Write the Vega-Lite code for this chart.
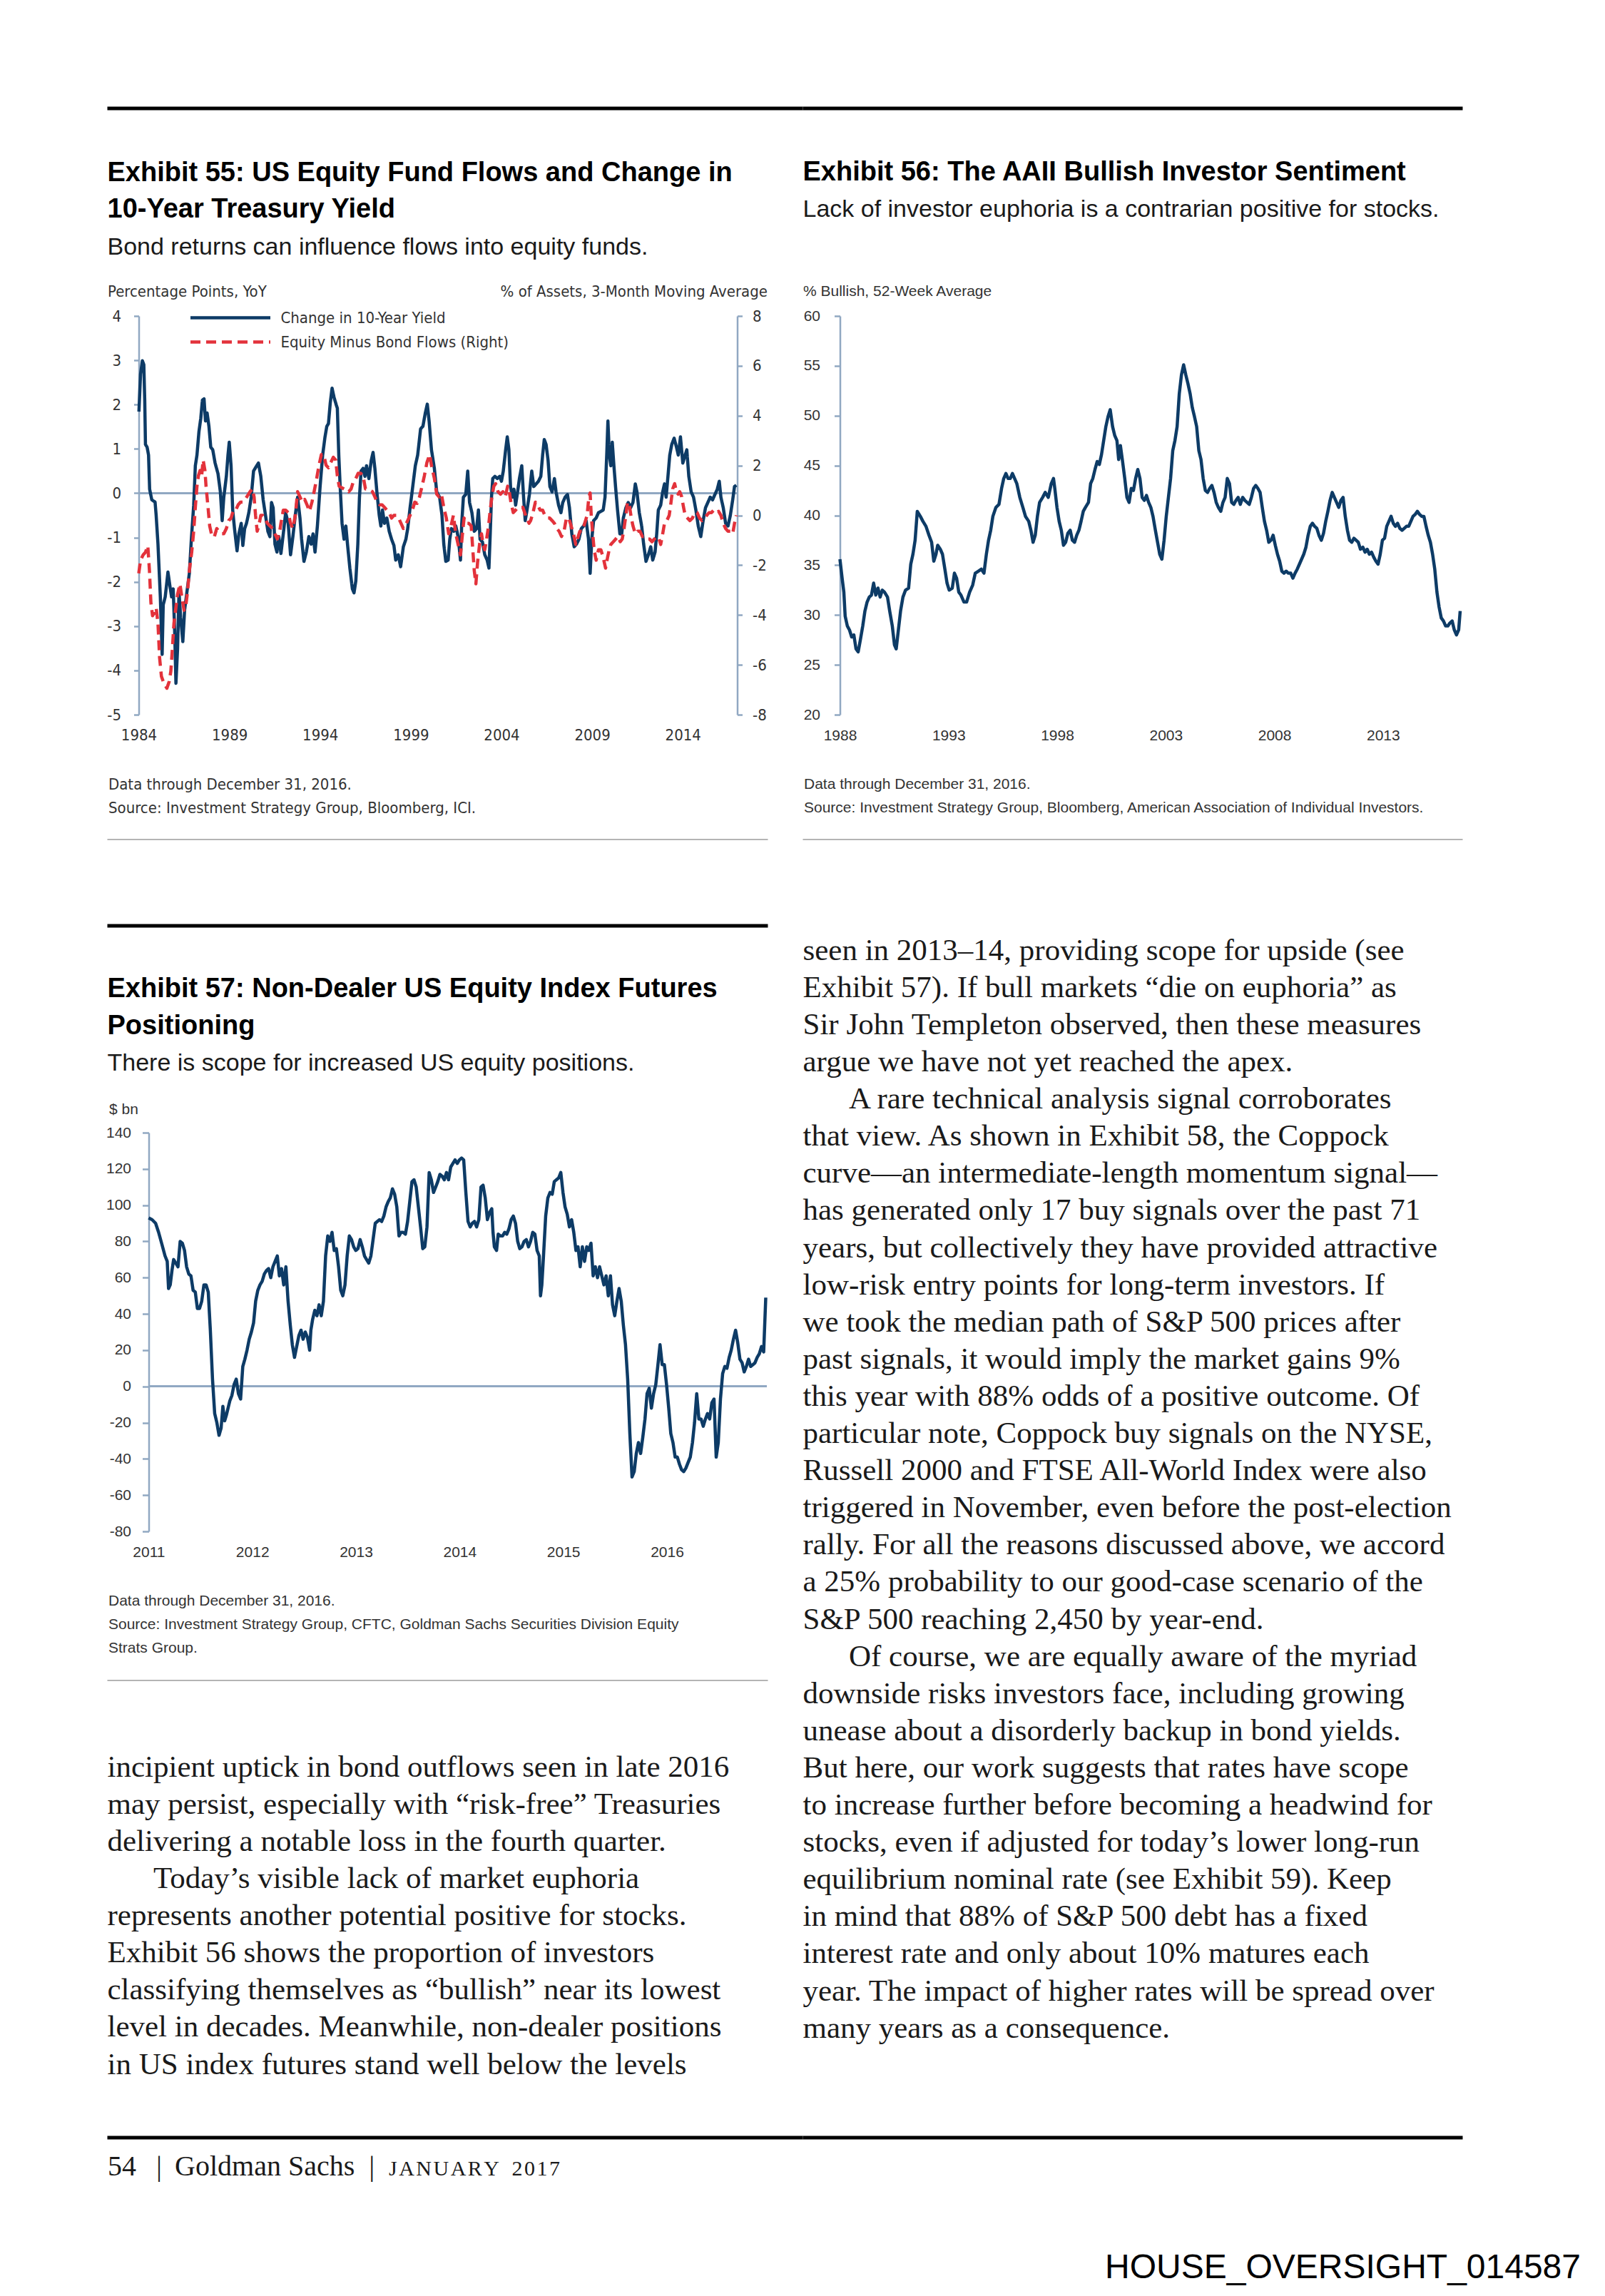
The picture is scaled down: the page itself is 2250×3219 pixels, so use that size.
{
  "$schema": "https://vega.github.io/schema/vega-lite/v6.json",
  "background": "white",
  "padding": {"left": 147.5, "top": 149, "right": 37, "bottom": 20},
  "columns": 2,
  "bounds": "flush",
  "align": "each",
  "spacing": 0,
  "resolve": {"scale": {"color": "independent", "strokeDash": "independent"}, "legend": {"color": "independent", "strokeDash": "independent"}},
  "title": {"text": "HOUSE_OVERSIGHT_014587", "orient": "bottom", "anchor": "end", "frame": "bounds", "dx": 163, "offset": 99, "font": "Liberation Sans", "fontSize": 48, "fontWeight": "normal", "color": "#000000"},
  "config": {
    "view": {"stroke": null},
    "font": "Liberation Sans",
    "locale": {"number": {"decimal": ".", "thousands": ",", "grouping": [3], "currency": ["$", ""], "minus": "-"}},
    "title": {"font": "Liberation Sans", "fontSize": 38, "fontWeight": "bold", "color": "#000000", "anchor": "start", "frame": "group", "lineHeight": 51.6, "subtitleFont": "Liberation Sans", "subtitleFontSize": 34, "subtitleFontWeight": "normal", "subtitleColor": "#1a1a1a", "subtitlePadding": 16},
    "axis": {"labelFont": "Liberation Sans", "labelFontSize": 21, "labelColor": "#333333", "domainColor": "#91A8C2", "domainWidth": 2.5, "tickColor": "#91A8C2", "tickWidth": 2.5, "tickSize": 8, "grid": false, "labelPadding": 18, "labelFlush": false, "labelOverlap": false, "labelBound": false, "titleFont": "Liberation Sans", "titleFontSize": 21, "titleFontWeight": "normal", "titleColor": "#333333", "titleLimit": 2000, "titleAngle": 0, "titleBaseline": "alphabetic"},
    "axisX": {"domain": false, "ticks": false, "tickSize": 0, "labelPadding": 18, "titleAlign": "left", "titleLineHeight": 33.4},
    "legend": {"labelFont": "Liberation Sans Narrow, DejaVu Sans Condensed, Liberation Sans", "labelFontSize": 22, "labelColor": "#333333", "labelLimit": 600}
  },
  "datasets": {
    "ex55": [
      {"t":1984.01,"s":"y","v":1.84},{"t":1984.10,"s":"y","v":2.69},{"t":1984.20,"s":"y","v":2.99},{"t":1984.28,"s":"y","v":2.90},{"t":1984.33,"s":"y","v":2.10},{"t":1984.37,"s":"y","v":1.10},{"t":1984.46,"s":"y","v":1.04},{"t":1984.54,"s":"y","v":0.86},{"t":1984.60,"s":"y","v":0.09},{"t":1984.72,"s":"y","v":-0.15},{"t":1984.90,"s":"y","v":-0.20},{"t":1984.96,"s":"y","v":-0.50},{"t":1985.06,"s":"y","v":-1.15},{"t":1985.19,"s":"y","v":-2.34},{"t":1985.29,"s":"y","v":-3.64},{"t":1985.35,"s":"y","v":-2.52},{"t":1985.46,"s":"y","v":-2.34},{"t":1985.61,"s":"y","v":-1.78},{"t":1985.72,"s":"y","v":-2.10},{"t":1985.81,"s":"y","v":-2.34},{"t":1985.90,"s":"y","v":-2.16},{"t":1985.98,"s":"y","v":-3.11},{"t":1986.05,"s":"y","v":-4.29},{"t":1986.14,"s":"y","v":-3.52},{"t":1986.22,"s":"y","v":-2.22},{"t":1986.31,"s":"y","v":-2.81},{"t":1986.43,"s":"y","v":-3.35},{"t":1986.53,"s":"y","v":-2.63},{"t":1986.66,"s":"y","v":-2.22},{"t":1986.79,"s":"y","v":-1.81},{"t":1986.90,"s":"y","v":-1.04},{"t":1987.03,"s":"y","v":-0.27},{"t":1987.12,"s":"y","v":0.62},{"t":1987.21,"s":"y","v":0.86},{"t":1987.32,"s":"y","v":1.39},{"t":1987.42,"s":"y","v":1.69},{"t":1987.51,"s":"y","v":2.10},{"t":1987.60,"s":"y","v":2.13},{"t":1987.68,"s":"y","v":1.63},{"t":1987.77,"s":"y","v":1.81},{"t":1987.87,"s":"y","v":1.51},{"t":1987.97,"s":"y","v":1.04},{"t":1988.08,"s":"y","v":0.98},{"t":1988.21,"s":"y","v":0.68},{"t":1988.37,"s":"y","v":0.44},{"t":1988.50,"s":"y","v":0.03},{"t":1988.60,"s":"y","v":-0.62},{"t":1988.69,"s":"y","v":-0.09},{"t":1988.83,"s":"y","v":0.38},{"t":1988.92,"s":"y","v":0.86},{"t":1988.99,"s":"y","v":1.15},{"t":1989.09,"s":"y","v":0.62},{"t":1989.18,"s":"y","v":-0.38},{"t":1989.28,"s":"y","v":-0.80},{"t":1989.42,"s":"y","v":-1.30},{"t":1989.52,"s":"y","v":-0.92},{"t":1989.65,"s":"y","v":-0.68},{"t":1989.74,"s":"y","v":-1.18},{"t":1989.84,"s":"y","v":-0.80},{"t":1989.94,"s":"y","v":-0.68},{"t":1990.07,"s":"y","v":-0.44},{"t":1990.20,"s":"y","v":-0.09},{"t":1990.33,"s":"y","v":0.50},{"t":1990.46,"s":"y","v":0.59},{"t":1990.60,"s":"y","v":0.68},{"t":1990.73,"s":"y","v":0.38},{"t":1990.86,"s":"y","v":-0.15},{"t":1990.99,"s":"y","v":-0.50},{"t":1991.12,"s":"y","v":-0.86},{"t":1991.23,"s":"y","v":-0.98},{"t":1991.32,"s":"y","v":-0.21},{"t":1991.41,"s":"y","v":-0.33},{"t":1991.51,"s":"y","v":-1.15},{"t":1991.62,"s":"y","v":-1.33},{"t":1991.72,"s":"y","v":-0.98},{"t":1991.84,"s":"y","v":-1.36},{"t":1991.97,"s":"y","v":-0.92},{"t":1992.10,"s":"y","v":-0.44},{"t":1992.24,"s":"y","v":-0.68},{"t":1992.37,"s":"y","v":-1.39},{"t":1992.50,"s":"y","v":-0.98},{"t":1992.63,"s":"y","v":-0.50},{"t":1992.76,"s":"y","v":-0.09},{"t":1992.89,"s":"y","v":-0.56},{"t":1992.98,"s":"y","v":-1.04},{"t":1993.11,"s":"y","v":-1.54},{"t":1993.24,"s":"y","v":-1.33},{"t":1993.38,"s":"y","v":-0.98},{"t":1993.51,"s":"y","v":-1.15},{"t":1993.61,"s":"y","v":-0.92},{"t":1993.72,"s":"y","v":-1.33},{"t":1993.85,"s":"y","v":-0.74},{"t":1994.00,"s":"y","v":0.15},{"t":1994.14,"s":"y","v":0.86},{"t":1994.27,"s":"y","v":1.27},{"t":1994.37,"s":"y","v":1.51},{"t":1994.46,"s":"y","v":1.57},{"t":1994.56,"s":"y","v":2.04},{"t":1994.66,"s":"y","v":2.37},{"t":1994.77,"s":"y","v":2.16},{"t":1994.90,"s":"y","v":1.98},{"t":1994.95,"s":"y","v":1.92},{"t":1995.03,"s":"y","v":0.86},{"t":1995.12,"s":"y","v":0.03},{"t":1995.21,"s":"y","v":-0.68},{"t":1995.32,"s":"y","v":-1.04},{"t":1995.42,"s":"y","v":-0.74},{"t":1995.51,"s":"y","v":-1.15},{"t":1995.64,"s":"y","v":-1.69},{"t":1995.78,"s":"y","v":-2.16},{"t":1995.87,"s":"y","v":-2.25},{"t":1995.97,"s":"y","v":-1.98},{"t":1996.08,"s":"y","v":-1.15},{"t":1996.17,"s":"y","v":-0.09},{"t":1996.26,"s":"y","v":0.50},{"t":1996.37,"s":"y","v":0.56},{"t":1996.47,"s":"y","v":0.38},{"t":1996.56,"s":"y","v":0.62},{"t":1996.69,"s":"y","v":0.33},{"t":1996.82,"s":"y","v":0.74},{"t":1996.92,"s":"y","v":0.92},{"t":1997.02,"s":"y","v":0.56},{"t":1997.13,"s":"y","v":0.03},{"t":1997.26,"s":"y","v":-0.50},{"t":1997.35,"s":"y","v":-0.74},{"t":1997.44,"s":"y","v":-0.38},{"t":1997.55,"s":"y","v":-0.68},{"t":1997.68,"s":"y","v":-0.56},{"t":1997.81,"s":"y","v":-0.86},{"t":1997.94,"s":"y","v":-1.04},{"t":1998.07,"s":"y","v":-1.18},{"t":1998.17,"s":"y","v":-1.51},{"t":1998.31,"s":"y","v":-1.39},{"t":1998.44,"s":"y","v":-1.66},{"t":1998.59,"s":"y","v":-1.21},{"t":1998.73,"s":"y","v":-1.04},{"t":1998.83,"s":"y","v":-0.80},{"t":1998.96,"s":"y","v":-0.33},{"t":1999.09,"s":"y","v":0.09},{"t":1999.25,"s":"y","v":0.62},{"t":1999.38,"s":"y","v":0.86},{"t":1999.54,"s":"y","v":1.45},{"t":1999.67,"s":"y","v":1.51},{"t":1999.80,"s":"y","v":1.81},{"t":1999.91,"s":"y","v":2.01},{"t":2000.01,"s":"y","v":1.63},{"t":2000.14,"s":"y","v":0.98},{"t":2000.30,"s":"y","v":0.56},{"t":2000.43,"s":"y","v":0.03},{"t":2000.59,"s":"y","v":-0.09},{"t":2000.72,"s":"y","v":-0.50},{"t":2000.82,"s":"y","v":-1.15},{"t":2000.93,"s":"y","v":-1.54},{"t":2001.06,"s":"y","v":-1.51},{"t":2001.15,"s":"y","v":-1.04},{"t":2001.24,"s":"y","v":-0.80},{"t":2001.37,"s":"y","v":-0.86},{"t":2001.48,"s":"y","v":-0.74},{"t":2001.61,"s":"y","v":-0.98},{"t":2001.74,"s":"y","v":-1.51},{"t":2001.81,"s":"y","v":-0.68},{"t":2001.90,"s":"y","v":-0.09},{"t":2002.03,"s":"y","v":-0.03},{"t":2002.14,"s":"y","v":0.50},{"t":2002.24,"s":"y","v":-0.21},{"t":2002.37,"s":"y","v":-0.44},{"t":2002.50,"s":"y","v":-0.86},{"t":2002.63,"s":"y","v":-0.80},{"t":2002.73,"s":"y","v":-0.38},{"t":2002.82,"s":"y","v":-1.04},{"t":2002.95,"s":"y","v":-1.10},{"t":2003.08,"s":"y","v":-1.39},{"t":2003.21,"s":"y","v":-1.51},{"t":2003.31,"s":"y","v":-1.69},{"t":2003.38,"s":"y","v":-0.92},{"t":2003.45,"s":"y","v":-0.09},{"t":2003.52,"s":"y","v":0.33},{"t":2003.64,"s":"y","v":0.38},{"t":2003.77,"s":"y","v":0.33},{"t":2003.90,"s":"y","v":0.38},{"t":2004.00,"s":"y","v":0.27},{"t":2004.10,"s":"y","v":0.50},{"t":2004.23,"s":"y","v":0.98},{"t":2004.32,"s":"y","v":1.27},{"t":2004.41,"s":"y","v":0.98},{"t":2004.50,"s":"y","v":0.15},{"t":2004.60,"s":"y","v":-0.09},{"t":2004.69,"s":"y","v":0.09},{"t":2004.78,"s":"y","v":-0.27},{"t":2004.89,"s":"y","v":0.03},{"t":2004.99,"s":"y","v":0.33},{"t":2005.12,"s":"y","v":0.62},{"t":2005.22,"s":"y","v":-0.09},{"t":2005.31,"s":"y","v":-0.62},{"t":2005.41,"s":"y","v":-0.38},{"t":2005.54,"s":"y","v":-0.03},{"t":2005.67,"s":"y","v":0.50},{"t":2005.78,"s":"y","v":0.15},{"t":2005.91,"s":"y","v":0.21},{"t":2006.04,"s":"y","v":0.27},{"t":2006.17,"s":"y","v":0.38},{"t":2006.27,"s":"y","v":0.86},{"t":2006.36,"s":"y","v":1.21},{"t":2006.46,"s":"y","v":1.10},{"t":2006.57,"s":"y","v":0.74},{"t":2006.67,"s":"y","v":0.15},{"t":2006.79,"s":"y","v":0.03},{"t":2006.92,"s":"y","v":0.33},{"t":2007.01,"s":"y","v":0.03},{"t":2007.15,"s":"y","v":-0.27},{"t":2007.28,"s":"y","v":-0.44},{"t":2007.38,"s":"y","v":-0.21},{"t":2007.51,"s":"y","v":-0.09},{"t":2007.64,"s":"y","v":-0.03},{"t":2007.75,"s":"y","v":-0.33},{"t":2007.88,"s":"y","v":-0.92},{"t":2008.01,"s":"y","v":-1.21},{"t":2008.14,"s":"y","v":-1.15},{"t":2008.27,"s":"y","v":-1.04},{"t":2008.40,"s":"y","v":-0.80},{"t":2008.53,"s":"y","v":-0.74},{"t":2008.67,"s":"y","v":-0.62},{"t":2008.80,"s":"y","v":-1.04},{"t":2008.89,"s":"y","v":-1.81},{"t":2008.98,"s":"y","v":-1.04},{"t":2009.08,"s":"y","v":-0.62},{"t":2009.22,"s":"y","v":-0.56},{"t":2009.35,"s":"y","v":-0.44},{"t":2009.48,"s":"y","v":-0.41},{"t":2009.61,"s":"y","v":-0.38},{"t":2009.71,"s":"y","v":-0.09},{"t":2009.81,"s":"y","v":0.92},{"t":2009.87,"s":"y","v":1.63},{"t":2009.95,"s":"y","v":0.86},{"t":2010.03,"s":"y","v":0.62},{"t":2010.11,"s":"y","v":1.15},{"t":2010.20,"s":"y","v":0.62},{"t":2010.29,"s":"y","v":0.15},{"t":2010.40,"s":"y","v":-0.38},{"t":2010.53,"s":"y","v":-0.92},{"t":2010.63,"s":"y","v":-0.92},{"t":2010.72,"s":"y","v":-0.56},{"t":2010.86,"s":"y","v":-0.33},{"t":2010.99,"s":"y","v":-0.21},{"t":2011.12,"s":"y","v":-0.33},{"t":2011.25,"s":"y","v":-0.21},{"t":2011.38,"s":"y","v":0.21},{"t":2011.47,"s":"y","v":0.03},{"t":2011.60,"s":"y","v":-0.44},{"t":2011.73,"s":"y","v":-0.74},{"t":2011.84,"s":"y","v":-1.15},{"t":2011.97,"s":"y","v":-1.54},{"t":2012.10,"s":"y","v":-1.39},{"t":2012.23,"s":"y","v":-1.21},{"t":2012.34,"s":"y","v":-1.51},{"t":2012.47,"s":"y","v":-1.33},{"t":2012.56,"s":"y","v":-0.92},{"t":2012.65,"s":"y","v":-0.38},{"t":2012.78,"s":"y","v":-0.27},{"t":2012.89,"s":"y","v":0.03},{"t":2012.99,"s":"y","v":0.21},{"t":2013.08,"s":"y","v":-0.09},{"t":2013.18,"s":"y","v":0.38},{"t":2013.28,"s":"y","v":0.86},{"t":2013.39,"s":"y","v":1.10},{"t":2013.52,"s":"y","v":1.24},{"t":2013.65,"s":"y","v":1.04},{"t":2013.75,"s":"y","v":0.86},{"t":2013.87,"s":"y","v":1.27},{"t":2014.00,"s":"y","v":0.68},{"t":2014.13,"s":"y","v":0.86},{"t":2014.22,"s":"y","v":0.98},{"t":2014.33,"s":"y","v":0.38},{"t":2014.46,"s":"y","v":0.03},{"t":2014.59,"s":"y","v":-0.09},{"t":2014.72,"s":"y","v":-0.38},{"t":2014.85,"s":"y","v":-0.74},{"t":2014.99,"s":"y","v":-0.98},{"t":2015.12,"s":"y","v":-0.62},{"t":2015.25,"s":"y","v":-0.33},{"t":2015.38,"s":"y","v":-0.21},{"t":2015.51,"s":"y","v":-0.09},{"t":2015.64,"s":"y","v":-0.15},{"t":2015.77,"s":"y","v":-0.03},{"t":2015.90,"s":"y","v":0.09},{"t":2016.01,"s":"y","v":0.27},{"t":2016.10,"s":"y","v":-0.09},{"t":2016.23,"s":"y","v":-0.33},{"t":2016.36,"s":"y","v":-0.68},{"t":2016.49,"s":"y","v":-0.74},{"t":2016.62,"s":"y","v":-0.50},{"t":2016.75,"s":"y","v":-0.15},{"t":2016.85,"s":"y","v":0.15},{"t":2016.95,"s":"y","v":0.18},
      {"t":1984.00,"s":"f","v":-2.33},{"t":1984.10,"s":"f","v":-1.80},{"t":1984.24,"s":"f","v":-1.59},{"t":1984.37,"s":"f","v":-1.48},{"t":1984.50,"s":"f","v":-1.22},{"t":1984.59,"s":"f","v":-2.22},{"t":1984.67,"s":"f","v":-3.50},{"t":1984.76,"s":"f","v":-4.03},{"t":1984.85,"s":"f","v":-3.92},{"t":1984.96,"s":"f","v":-3.71},{"t":1985.06,"s":"f","v":-4.34},{"t":1985.15,"s":"f","v":-5.72},{"t":1985.25,"s":"f","v":-6.46},{"t":1985.38,"s":"f","v":-6.73},{"t":1985.55,"s":"f","v":-6.94},{"t":1985.68,"s":"f","v":-6.67},{"t":1985.77,"s":"f","v":-6.25},{"t":1985.85,"s":"f","v":-5.40},{"t":1985.94,"s":"f","v":-4.34},{"t":1986.03,"s":"f","v":-3.81},{"t":1986.14,"s":"f","v":-3.18},{"t":1986.27,"s":"f","v":-2.75},{"t":1986.40,"s":"f","v":-3.39},{"t":1986.50,"s":"f","v":-3.81},{"t":1986.60,"s":"f","v":-3.60},{"t":1986.69,"s":"f","v":-3.07},{"t":1986.79,"s":"f","v":-2.22},{"t":1986.92,"s":"f","v":-1.48},{"t":1987.03,"s":"f","v":-0.64},{"t":1987.12,"s":"f","v":0.32},{"t":1987.21,"s":"f","v":1.17},{"t":1987.29,"s":"f","v":1.59},{"t":1987.38,"s":"f","v":1.80},{"t":1987.47,"s":"f","v":1.59},{"t":1987.55,"s":"f","v":2.22},{"t":1987.65,"s":"f","v":1.80},{"t":1987.71,"s":"f","v":1.17},{"t":1987.82,"s":"f","v":0.32},{"t":1987.91,"s":"f","v":-0.42},{"t":1988.04,"s":"f","v":-0.85},{"t":1988.17,"s":"f","v":-0.85},{"t":1988.30,"s":"f","v":-0.53},{"t":1988.43,"s":"f","v":-0.64},{"t":1988.56,"s":"f","v":-0.74},{"t":1988.69,"s":"f","v":-0.74},{"t":1988.83,"s":"f","v":-0.53},{"t":1988.96,"s":"f","v":-0.21},{"t":1989.09,"s":"f","v":-0.11},{"t":1989.22,"s":"f","v":0.21},{"t":1989.35,"s":"f","v":0.21},{"t":1989.48,"s":"f","v":0.42},{"t":1989.61,"s":"f","v":0.53},{"t":1989.74,"s":"f","v":0.53},{"t":1989.87,"s":"f","v":0.64},{"t":1990.00,"s":"f","v":0.79},{"t":1990.14,"s":"f","v":0.95},{"t":1990.27,"s":"f","v":1.06},{"t":1990.36,"s":"f","v":0.74},{"t":1990.44,"s":"f","v":0.00},{"t":1990.53,"s":"f","v":-0.64},{"t":1990.62,"s":"f","v":-0.42},{"t":1990.73,"s":"f","v":0.00},{"t":1990.83,"s":"f","v":0.00},{"t":1990.96,"s":"f","v":-0.11},{"t":1991.09,"s":"f","v":-0.32},{"t":1991.23,"s":"f","v":-0.42},{"t":1991.38,"s":"f","v":-0.53},{"t":1991.51,"s":"f","v":-0.74},{"t":1991.64,"s":"f","v":-0.95},{"t":1991.75,"s":"f","v":-0.74},{"t":1991.84,"s":"f","v":-0.32},{"t":1991.97,"s":"f","v":0.21},{"t":1992.10,"s":"f","v":0.21},{"t":1992.24,"s":"f","v":0.11},{"t":1992.37,"s":"f","v":-0.32},{"t":1992.50,"s":"f","v":-0.53},{"t":1992.63,"s":"f","v":0.00},{"t":1992.76,"s":"f","v":0.95},{"t":1992.89,"s":"f","v":0.74},{"t":1993.02,"s":"f","v":0.53},{"t":1993.15,"s":"f","v":0.64},{"t":1993.28,"s":"f","v":0.42},{"t":1993.41,"s":"f","v":0.16},{"t":1993.55,"s":"f","v":0.53},{"t":1993.67,"s":"f","v":0.95},{"t":1993.81,"s":"f","v":1.48},{"t":1993.94,"s":"f","v":2.01},{"t":1994.07,"s":"f","v":2.44},{"t":1994.20,"s":"f","v":2.44},{"t":1994.33,"s":"f","v":2.01},{"t":1994.46,"s":"f","v":1.91},{"t":1994.59,"s":"f","v":2.12},{"t":1994.73,"s":"f","v":2.33},{"t":1994.86,"s":"f","v":2.22},{"t":1994.95,"s":"f","v":1.59},{"t":1995.05,"s":"f","v":1.17},{"t":1995.19,"s":"f","v":1.11},{"t":1995.32,"s":"f","v":1.06},{"t":1995.45,"s":"f","v":1.06},{"t":1995.58,"s":"f","v":0.95},{"t":1995.71,"s":"f","v":1.06},{"t":1995.84,"s":"f","v":1.38},{"t":1995.97,"s":"f","v":1.48},{"t":1996.10,"s":"f","v":1.69},{"t":1996.23,"s":"f","v":1.69},{"t":1996.37,"s":"f","v":1.59},{"t":1996.50,"s":"f","v":1.06},{"t":1996.63,"s":"f","v":1.06},{"t":1996.76,"s":"f","v":1.01},{"t":1996.89,"s":"f","v":0.95},{"t":1997.02,"s":"f","v":0.74},{"t":1997.15,"s":"f","v":0.53},{"t":1997.29,"s":"f","v":0.42},{"t":1997.42,"s":"f","v":0.42},{"t":1997.55,"s":"f","v":0.32},{"t":1997.68,"s":"f","v":0.21},{"t":1997.81,"s":"f","v":0.11},{"t":1997.94,"s":"f","v":-0.11},{"t":1998.07,"s":"f","v":0.00},{"t":1998.20,"s":"f","v":0.00},{"t":1998.33,"s":"f","v":-0.11},{"t":1998.46,"s":"f","v":-0.32},{"t":1998.59,"s":"f","v":-0.53},{"t":1998.69,"s":"f","v":-0.42},{"t":1998.83,"s":"f","v":-0.21},{"t":1998.96,"s":"f","v":0.00},{"t":1999.09,"s":"f","v":0.21},{"t":1999.22,"s":"f","v":0.53},{"t":1999.35,"s":"f","v":0.48},{"t":1999.48,"s":"f","v":0.74},{"t":1999.62,"s":"f","v":1.17},{"t":1999.75,"s":"f","v":1.59},{"t":1999.89,"s":"f","v":2.12},{"t":2000.04,"s":"f","v":2.44},{"t":2000.14,"s":"f","v":2.01},{"t":2000.30,"s":"f","v":1.48},{"t":2000.43,"s":"f","v":0.85},{"t":2000.56,"s":"f","v":0.74},{"t":2000.69,"s":"f","v":0.85},{"t":2000.82,"s":"f","v":0.32},{"t":2000.96,"s":"f","v":-0.11},{"t":2001.09,"s":"f","v":-0.74},{"t":2001.22,"s":"f","v":-0.42},{"t":2001.35,"s":"f","v":0.00},{"t":2001.48,"s":"f","v":-0.74},{"t":2001.61,"s":"f","v":-1.17},{"t":2001.74,"s":"f","v":-1.59},{"t":2001.85,"s":"f","v":-0.74},{"t":2001.94,"s":"f","v":-0.11},{"t":2002.07,"s":"f","v":-0.32},{"t":2002.20,"s":"f","v":-0.32},{"t":2002.33,"s":"f","v":-0.42},{"t":2002.42,"s":"f","v":-1.38},{"t":2002.50,"s":"f","v":-2.22},{"t":2002.59,"s":"f","v":-2.75},{"t":2002.68,"s":"f","v":-1.91},{"t":2002.79,"s":"f","v":-1.17},{"t":2002.90,"s":"f","v":-0.74},{"t":2002.99,"s":"f","v":-1.17},{"t":2003.08,"s":"f","v":-1.38},{"t":2003.18,"s":"f","v":-0.95},{"t":2003.29,"s":"f","v":-0.42},{"t":2003.38,"s":"f","v":0.21},{"t":2003.47,"s":"f","v":0.74},{"t":2003.58,"s":"f","v":1.17},{"t":2003.68,"s":"f","v":1.27},{"t":2003.81,"s":"f","v":0.95},{"t":2003.95,"s":"f","v":0.85},{"t":2004.08,"s":"f","v":0.95},{"t":2004.21,"s":"f","v":0.74},{"t":2004.34,"s":"f","v":1.17},{"t":2004.43,"s":"f","v":0.95},{"t":2004.52,"s":"f","v":0.53},{"t":2004.65,"s":"f","v":0.11},{"t":2004.78,"s":"f","v":0.21},{"t":2004.91,"s":"f","v":0.32},{"t":2005.05,"s":"f","v":0.32},{"t":2005.18,"s":"f","v":0.32},{"t":2005.28,"s":"f","v":0.11},{"t":2005.39,"s":"f","v":-0.11},{"t":2005.52,"s":"f","v":-0.32},{"t":2005.61,"s":"f","v":-0.21},{"t":2005.74,"s":"f","v":0.11},{"t":2005.87,"s":"f","v":0.53},{"t":2006.00,"s":"f","v":0.42},{"t":2006.13,"s":"f","v":0.21},{"t":2006.27,"s":"f","v":0.21},{"t":2006.39,"s":"f","v":0.00},{"t":2006.53,"s":"f","v":-0.11},{"t":2006.66,"s":"f","v":-0.11},{"t":2006.79,"s":"f","v":-0.21},{"t":2006.92,"s":"f","v":-0.32},{"t":2007.05,"s":"f","v":-0.53},{"t":2007.18,"s":"f","v":-0.64},{"t":2007.31,"s":"f","v":-0.85},{"t":2007.45,"s":"f","v":-0.64},{"t":2007.58,"s":"f","v":-0.11},{"t":2007.71,"s":"f","v":-0.11},{"t":2007.84,"s":"f","v":-0.42},{"t":2007.97,"s":"f","v":-0.74},{"t":2008.10,"s":"f","v":-1.17},{"t":2008.19,"s":"f","v":-0.95},{"t":2008.32,"s":"f","v":-0.64},{"t":2008.46,"s":"f","v":-0.64},{"t":2008.59,"s":"f","v":-0.32},{"t":2008.72,"s":"f","v":0.00},{"t":2008.82,"s":"f","v":0.74},{"t":2008.89,"s":"f","v":0.90},{"t":2008.95,"s":"f","v":0.00},{"t":2009.02,"s":"f","v":-0.64},{"t":2009.11,"s":"f","v":-1.38},{"t":2009.22,"s":"f","v":-1.80},{"t":2009.35,"s":"f","v":-1.38},{"t":2009.48,"s":"f","v":-1.38},{"t":2009.61,"s":"f","v":-1.69},{"t":2009.74,"s":"f","v":-2.12},{"t":2009.85,"s":"f","v":-1.69},{"t":2009.94,"s":"f","v":-1.38},{"t":2010.03,"s":"f","v":-1.17},{"t":2010.17,"s":"f","v":-1.06},{"t":2010.30,"s":"f","v":-0.95},{"t":2010.42,"s":"f","v":-0.85},{"t":2010.55,"s":"f","v":-1.06},{"t":2010.66,"s":"f","v":-0.95},{"t":2010.76,"s":"f","v":-0.53},{"t":2010.86,"s":"f","v":0.00},{"t":2010.95,"s":"f","v":0.53},{"t":2011.05,"s":"f","v":0.42},{"t":2011.16,"s":"f","v":-0.11},{"t":2011.25,"s":"f","v":-0.42},{"t":2011.38,"s":"f","v":-0.74},{"t":2011.51,"s":"f","v":-0.64},{"t":2011.64,"s":"f","v":-0.64},{"t":2011.77,"s":"f","v":-0.85},{"t":2011.90,"s":"f","v":-0.85},{"t":2012.03,"s":"f","v":-0.95},{"t":2012.17,"s":"f","v":-0.95},{"t":2012.30,"s":"f","v":-1.06},{"t":2012.43,"s":"f","v":-0.95},{"t":2012.56,"s":"f","v":-0.85},{"t":2012.69,"s":"f","v":-0.95},{"t":2012.78,"s":"f","v":-1.17},{"t":2012.89,"s":"f","v":-0.74},{"t":2012.99,"s":"f","v":-0.32},{"t":2013.12,"s":"f","v":-0.21},{"t":2013.25,"s":"f","v":0.00},{"t":2013.35,"s":"f","v":0.53},{"t":2013.44,"s":"f","v":1.06},{"t":2013.55,"s":"f","v":1.27},{"t":2013.65,"s":"f","v":0.95},{"t":2013.74,"s":"f","v":0.85},{"t":2013.83,"s":"f","v":0.95},{"t":2013.94,"s":"f","v":0.74},{"t":2014.04,"s":"f","v":0.32},{"t":2014.13,"s":"f","v":0.00},{"t":2014.26,"s":"f","v":-0.11},{"t":2014.39,"s":"f","v":-0.21},{"t":2014.53,"s":"f","v":-0.11},{"t":2014.66,"s":"f","v":0.11},{"t":2014.79,"s":"f","v":0.11},{"t":2014.92,"s":"f","v":-0.11},{"t":2015.06,"s":"f","v":-0.21},{"t":2015.19,"s":"f","v":-0.11},{"t":2015.32,"s":"f","v":0.00},{"t":2015.45,"s":"f","v":0.11},{"t":2015.58,"s":"f","v":0.11},{"t":2015.71,"s":"f","v":0.21},{"t":2015.84,"s":"f","v":0.11},{"t":2015.97,"s":"f","v":0.16},{"t":2016.10,"s":"f","v":0.00},{"t":2016.23,"s":"f","v":-0.32},{"t":2016.36,"s":"f","v":-0.53},{"t":2016.49,"s":"f","v":-0.64},{"t":2016.62,"s":"f","v":-0.64},{"t":2016.75,"s":"f","v":-0.74},{"t":2016.85,"s":"f","v":-0.32},{"t":2016.95,"s":"f","v":0.00}
    ],
    "ex56": [
      {"t":1988.00,"v":35.6},{"t":1988.10,"v":33.7},{"t":1988.18,"v":32.3},{"t":1988.24,"v":29.9},{"t":1988.34,"v":28.9},{"t":1988.44,"v":28.5},{"t":1988.54,"v":27.8},{"t":1988.64,"v":28.0},{"t":1988.74,"v":26.6},{"t":1988.84,"v":26.3},{"t":1988.94,"v":27.5},{"t":1989.05,"v":28.9},{"t":1989.15,"v":30.4},{"t":1989.25,"v":31.3},{"t":1989.35,"v":31.8},{"t":1989.45,"v":32.0},{"t":1989.55,"v":33.2},{"t":1989.65,"v":32.0},{"t":1989.75,"v":32.7},{"t":1989.85,"v":31.8},{"t":1989.95,"v":32.5},{"t":1990.05,"v":32.3},{"t":1990.19,"v":31.8},{"t":1990.29,"v":30.4},{"t":1990.41,"v":28.9},{"t":1990.51,"v":27.0},{"t":1990.59,"v":26.6},{"t":1990.69,"v":28.5},{"t":1990.79,"v":30.4},{"t":1990.90,"v":31.8},{"t":1991.02,"v":32.5},{"t":1991.16,"v":32.7},{"t":1991.26,"v":35.1},{"t":1991.36,"v":36.1},{"t":1991.46,"v":37.5},{"t":1991.56,"v":40.4},{"t":1991.70,"v":39.9},{"t":1991.82,"v":39.4},{"t":1991.96,"v":38.9},{"t":1992.10,"v":38.0},{"t":1992.22,"v":37.3},{"t":1992.32,"v":35.4},{"t":1992.42,"v":36.1},{"t":1992.50,"v":37.0},{"t":1992.62,"v":36.6},{"t":1992.72,"v":36.1},{"t":1992.83,"v":34.6},{"t":1992.93,"v":33.2},{"t":1993.03,"v":32.5},{"t":1993.17,"v":32.7},{"t":1993.27,"v":34.2},{"t":1993.37,"v":33.7},{"t":1993.47,"v":32.3},{"t":1993.57,"v":32.0},{"t":1993.71,"v":31.3},{"t":1993.83,"v":31.3},{"t":1993.97,"v":32.3},{"t":1994.11,"v":33.0},{"t":1994.23,"v":34.2},{"t":1994.37,"v":34.4},{"t":1994.51,"v":34.6},{"t":1994.63,"v":34.2},{"t":1994.74,"v":36.1},{"t":1994.84,"v":37.5},{"t":1994.94,"v":38.5},{"t":1995.04,"v":39.9},{"t":1995.18,"v":40.8},{"t":1995.32,"v":41.1},{"t":1995.44,"v":42.7},{"t":1995.54,"v":43.7},{"t":1995.64,"v":44.2},{"t":1995.74,"v":43.7},{"t":1995.84,"v":43.7},{"t":1995.94,"v":44.2},{"t":1996.04,"v":43.7},{"t":1996.14,"v":43.2},{"t":1996.28,"v":41.8},{"t":1996.42,"v":40.8},{"t":1996.54,"v":39.9},{"t":1996.69,"v":39.4},{"t":1996.79,"v":38.5},{"t":1996.89,"v":37.3},{"t":1996.99,"v":38.0},{"t":1997.09,"v":39.9},{"t":1997.19,"v":41.3},{"t":1997.33,"v":41.8},{"t":1997.45,"v":42.3},{"t":1997.59,"v":41.8},{"t":1997.73,"v":43.2},{"t":1997.83,"v":43.7},{"t":1997.89,"v":42.7},{"t":1997.99,"v":40.8},{"t":1998.09,"v":39.4},{"t":1998.19,"v":38.5},{"t":1998.29,"v":37.0},{"t":1998.39,"v":37.3},{"t":1998.49,"v":38.2},{"t":1998.60,"v":38.5},{"t":1998.70,"v":37.5},{"t":1998.80,"v":37.3},{"t":1998.90,"v":38.0},{"t":1999.00,"v":38.5},{"t":1999.10,"v":39.4},{"t":1999.20,"v":40.4},{"t":1999.30,"v":40.8},{"t":1999.44,"v":41.3},{"t":1999.54,"v":43.2},{"t":1999.64,"v":43.7},{"t":1999.74,"v":44.6},{"t":1999.84,"v":45.4},{"t":1999.94,"v":45.1},{"t":2000.04,"v":46.1},{"t":2000.14,"v":47.5},{"t":2000.24,"v":48.9},{"t":2000.34,"v":49.9},{"t":2000.44,"v":50.6},{"t":2000.55,"v":48.9},{"t":2000.65,"v":48.0},{"t":2000.75,"v":47.5},{"t":2000.83,"v":45.6},{"t":2000.91,"v":47.0},{"t":2001.01,"v":45.4},{"t":2001.11,"v":43.7},{"t":2001.21,"v":41.8},{"t":2001.31,"v":41.3},{"t":2001.41,"v":42.7},{"t":2001.51,"v":42.5},{"t":2001.61,"v":43.7},{"t":2001.71,"v":44.6},{"t":2001.81,"v":43.7},{"t":2001.91,"v":41.8},{"t":2002.01,"v":41.5},{"t":2002.11,"v":42.0},{"t":2002.21,"v":41.3},{"t":2002.31,"v":40.8},{"t":2002.41,"v":39.9},{"t":2002.52,"v":38.5},{"t":2002.62,"v":37.3},{"t":2002.72,"v":36.1},{"t":2002.82,"v":35.6},{"t":2002.92,"v":37.5},{"t":2003.02,"v":39.9},{"t":2003.12,"v":41.8},{"t":2003.22,"v":43.7},{"t":2003.32,"v":46.5},{"t":2003.42,"v":47.5},{"t":2003.52,"v":48.9},{"t":2003.62,"v":52.2},{"t":2003.72,"v":54.1},{"t":2003.82,"v":55.1},{"t":2003.92,"v":54.1},{"t":2004.02,"v":53.2},{"t":2004.12,"v":52.2},{"t":2004.22,"v":50.8},{"t":2004.32,"v":49.9},{"t":2004.42,"v":48.9},{"t":2004.52,"v":46.5},{"t":2004.62,"v":45.6},{"t":2004.72,"v":43.7},{"t":2004.82,"v":42.5},{"t":2004.92,"v":42.3},{"t":2005.02,"v":42.7},{"t":2005.12,"v":43.0},{"t":2005.22,"v":42.3},{"t":2005.32,"v":41.3},{"t":2005.42,"v":40.8},{"t":2005.53,"v":40.4},{"t":2005.63,"v":41.3},{"t":2005.73,"v":41.8},{"t":2005.83,"v":43.7},{"t":2005.93,"v":43.2},{"t":2006.03,"v":41.3},{"t":2006.13,"v":41.1},{"t":2006.23,"v":41.5},{"t":2006.33,"v":41.8},{"t":2006.43,"v":41.1},{"t":2006.54,"v":41.8},{"t":2006.64,"v":41.5},{"t":2006.74,"v":41.3},{"t":2006.84,"v":41.1},{"t":2006.94,"v":41.8},{"t":2007.04,"v":42.7},{"t":2007.14,"v":43.0},{"t":2007.24,"v":42.7},{"t":2007.34,"v":42.3},{"t":2007.44,"v":40.8},{"t":2007.54,"v":39.4},{"t":2007.64,"v":38.5},{"t":2007.74,"v":37.3},{"t":2007.84,"v":37.5},{"t":2007.94,"v":38.0},{"t":2008.04,"v":37.0},{"t":2008.14,"v":36.1},{"t":2008.24,"v":35.4},{"t":2008.34,"v":34.4},{"t":2008.44,"v":34.2},{"t":2008.54,"v":34.4},{"t":2008.64,"v":34.2},{"t":2008.75,"v":34.2},{"t":2008.85,"v":33.7},{"t":2008.95,"v":34.2},{"t":2009.05,"v":34.6},{"t":2009.15,"v":35.1},{"t":2009.25,"v":35.6},{"t":2009.35,"v":36.1},{"t":2009.45,"v":36.8},{"t":2009.55,"v":38.0},{"t":2009.65,"v":38.9},{"t":2009.75,"v":39.2},{"t":2009.85,"v":38.9},{"t":2009.95,"v":38.7},{"t":2010.05,"v":38.0},{"t":2010.16,"v":37.5},{"t":2010.26,"v":38.2},{"t":2010.36,"v":39.4},{"t":2010.46,"v":40.4},{"t":2010.56,"v":41.5},{"t":2010.66,"v":42.3},{"t":2010.76,"v":41.8},{"t":2010.86,"v":41.3},{"t":2010.96,"v":40.8},{"t":2011.06,"v":41.5},{"t":2011.16,"v":41.8},{"t":2011.26,"v":39.9},{"t":2011.36,"v":38.5},{"t":2011.46,"v":37.5},{"t":2011.56,"v":37.3},{"t":2011.66,"v":37.7},{"t":2011.76,"v":37.5},{"t":2011.86,"v":37.3},{"t":2011.96,"v":36.6},{"t":2012.07,"v":36.8},{"t":2012.17,"v":36.3},{"t":2012.27,"v":36.6},{"t":2012.37,"v":36.1},{"t":2012.47,"v":36.3},{"t":2012.57,"v":35.8},{"t":2012.67,"v":35.4},{"t":2012.77,"v":35.1},{"t":2012.87,"v":36.1},{"t":2012.97,"v":37.5},{"t":2013.07,"v":37.7},{"t":2013.17,"v":38.9},{"t":2013.27,"v":39.4},{"t":2013.37,"v":39.9},{"t":2013.47,"v":39.2},{"t":2013.57,"v":38.9},{"t":2013.67,"v":39.2},{"t":2013.77,"v":38.7},{"t":2013.88,"v":38.5},{"t":2013.98,"v":38.7},{"t":2014.08,"v":38.9},{"t":2014.18,"v":38.9},{"t":2014.28,"v":39.4},{"t":2014.38,"v":39.9},{"t":2014.48,"v":40.1},{"t":2014.58,"v":40.4},{"t":2014.68,"v":40.1},{"t":2014.78,"v":39.9},{"t":2014.88,"v":39.9},{"t":2014.98,"v":38.9},{"t":2015.08,"v":38.0},{"t":2015.18,"v":37.3},{"t":2015.28,"v":36.1},{"t":2015.38,"v":34.6},{"t":2015.48,"v":32.3},{"t":2015.58,"v":30.8},{"t":2015.68,"v":29.7},{"t":2015.78,"v":29.4},{"t":2015.88,"v":28.9},{"t":2015.98,"v":28.9},{"t":2016.08,"v":29.2},{"t":2016.18,"v":29.4},{"t":2016.28,"v":28.5},{"t":2016.38,"v":28.0},{"t":2016.48,"v":28.5},{"t":2016.55,"v":30.4}
    ],
    "ex57": [
      {"t":2011.000,"v":93},{"t":2011.033,"v":92},{"t":2011.067,"v":90},{"t":2011.096,"v":85},{"t":2011.125,"v":79},{"t":2011.158,"v":72},{"t":2011.179,"v":69},{"t":2011.192,"v":54},{"t":2011.208,"v":56},{"t":2011.225,"v":64},{"t":2011.241,"v":70},{"t":2011.262,"v":68},{"t":2011.283,"v":66},{"t":2011.304,"v":80},{"t":2011.325,"v":79},{"t":2011.346,"v":75},{"t":2011.366,"v":66},{"t":2011.387,"v":62},{"t":2011.408,"v":61},{"t":2011.429,"v":53},{"t":2011.450,"v":52},{"t":2011.470,"v":43},{"t":2011.491,"v":43},{"t":2011.512,"v":47},{"t":2011.533,"v":56},{"t":2011.554,"v":56},{"t":2011.575,"v":52},{"t":2011.595,"v":31},{"t":2011.616,"v":4},{"t":2011.637,"v":-15},{"t":2011.658,"v":-20},{"t":2011.679,"v":-27},{"t":2011.699,"v":-23},{"t":2011.716,"v":-11},{"t":2011.733,"v":-19},{"t":2011.749,"v":-16},{"t":2011.766,"v":-12},{"t":2011.783,"v":-8},{"t":2011.803,"v":-5},{"t":2011.824,"v":1},{"t":2011.845,"v":4},{"t":2011.866,"v":-4},{"t":2011.887,"v":-7},{"t":2011.908,"v":11},{"t":2011.928,"v":15},{"t":2011.949,"v":20},{"t":2011.970,"v":26},{"t":2011.991,"v":30},{"t":2012.012,"v":35},{"t":2012.032,"v":47},{"t":2012.053,"v":53},{"t":2012.074,"v":56},{"t":2012.095,"v":58},{"t":2012.116,"v":62},{"t":2012.137,"v":64},{"t":2012.157,"v":65},{"t":2012.178,"v":60},{"t":2012.199,"v":66},{"t":2012.220,"v":69},{"t":2012.241,"v":72},{"t":2012.261,"v":61},{"t":2012.282,"v":65},{"t":2012.303,"v":56},{"t":2012.324,"v":66},{"t":2012.345,"v":47},{"t":2012.366,"v":34},{"t":2012.386,"v":23},{"t":2012.407,"v":16},{"t":2012.428,"v":22},{"t":2012.449,"v":28},{"t":2012.470,"v":31},{"t":2012.490,"v":26},{"t":2012.511,"v":30},{"t":2012.532,"v":27},{"t":2012.553,"v":20},{"t":2012.565,"v":31},{"t":2012.582,"v":37},{"t":2012.603,"v":42},{"t":2012.624,"v":39},{"t":2012.644,"v":45},{"t":2012.665,"v":39},{"t":2012.686,"v":47},{"t":2012.707,"v":72},{"t":2012.728,"v":83},{"t":2012.749,"v":80},{"t":2012.769,"v":85},{"t":2012.790,"v":75},{"t":2012.811,"v":76},{"t":2012.832,"v":66},{"t":2012.853,"v":53},{"t":2012.873,"v":50},{"t":2012.894,"v":56},{"t":2012.915,"v":72},{"t":2012.936,"v":83},{"t":2012.957,"v":81},{"t":2012.978,"v":77},{"t":2012.998,"v":75},{"t":2013.019,"v":76},{"t":2013.040,"v":81},{"t":2013.061,"v":77},{"t":2013.082,"v":72},{"t":2013.102,"v":70},{"t":2013.123,"v":68},{"t":2013.144,"v":72},{"t":2013.165,"v":81},{"t":2013.186,"v":90},{"t":2013.206,"v":91},{"t":2013.227,"v":92},{"t":2013.248,"v":91},{"t":2013.269,"v":94},{"t":2013.290,"v":99},{"t":2013.311,"v":102},{"t":2013.331,"v":104},{"t":2013.352,"v":109},{"t":2013.373,"v":106},{"t":2013.394,"v":99},{"t":2013.415,"v":83},{"t":2013.435,"v":85},{"t":2013.456,"v":85},{"t":2013.477,"v":84},{"t":2013.498,"v":91},{"t":2013.519,"v":102},{"t":2013.540,"v":113},{"t":2013.560,"v":114},{"t":2013.581,"v":110},{"t":2013.602,"v":99},{"t":2013.623,"v":88},{"t":2013.644,"v":76},{"t":2013.664,"v":77},{"t":2013.685,"v":88},{"t":2013.706,"v":118},{"t":2013.727,"v":114},{"t":2013.748,"v":107},{"t":2013.769,"v":110},{"t":2013.789,"v":113},{"t":2013.810,"v":117},{"t":2013.831,"v":116},{"t":2013.852,"v":114},{"t":2013.873,"v":118},{"t":2013.893,"v":114},{"t":2013.914,"v":121},{"t":2013.935,"v":123},{"t":2013.956,"v":125},{"t":2013.977,"v":123},{"t":2013.998,"v":125},{"t":2014.018,"v":126},{"t":2014.039,"v":125},{"t":2014.060,"v":107},{"t":2014.081,"v":91},{"t":2014.102,"v":88},{"t":2014.122,"v":90},{"t":2014.143,"v":91},{"t":2014.164,"v":88},{"t":2014.185,"v":92},{"t":2014.206,"v":110},{"t":2014.226,"v":111},{"t":2014.247,"v":104},{"t":2014.268,"v":92},{"t":2014.289,"v":96},{"t":2014.310,"v":98},{"t":2014.322,"v":85},{"t":2014.335,"v":77},{"t":2014.356,"v":75},{"t":2014.372,"v":84},{"t":2014.393,"v":83},{"t":2014.414,"v":83},{"t":2014.435,"v":85},{"t":2014.455,"v":84},{"t":2014.476,"v":87},{"t":2014.497,"v":92},{"t":2014.518,"v":94},{"t":2014.539,"v":90},{"t":2014.560,"v":80},{"t":2014.580,"v":76},{"t":2014.601,"v":77},{"t":2014.622,"v":80},{"t":2014.643,"v":81},{"t":2014.664,"v":77},{"t":2014.684,"v":80},{"t":2014.705,"v":85},{"t":2014.726,"v":84},{"t":2014.747,"v":75},{"t":2014.768,"v":72},{"t":2014.780,"v":50},{"t":2014.793,"v":56},{"t":2014.809,"v":72},{"t":2014.830,"v":94},{"t":2014.851,"v":104},{"t":2014.872,"v":107},{"t":2014.893,"v":106},{"t":2014.913,"v":113},{"t":2014.934,"v":114},{"t":2014.955,"v":115},{"t":2014.976,"v":118},{"t":2014.997,"v":107},{"t":2015.017,"v":99},{"t":2015.038,"v":95},{"t":2015.059,"v":88},{"t":2015.080,"v":92},{"t":2015.101,"v":85},{"t":2015.122,"v":75},{"t":2015.142,"v":77},{"t":2015.163,"v":66},{"t":2015.184,"v":77},{"t":2015.205,"v":69},{"t":2015.226,"v":77},{"t":2015.246,"v":75},{"t":2015.267,"v":79},{"t":2015.288,"v":61},{"t":2015.309,"v":66},{"t":2015.330,"v":60},{"t":2015.350,"v":66},{"t":2015.371,"v":61},{"t":2015.392,"v":56},{"t":2015.413,"v":61},{"t":2015.434,"v":50},{"t":2015.455,"v":61},{"t":2015.475,"v":45},{"t":2015.496,"v":39},{"t":2015.517,"v":47},{"t":2015.538,"v":54},{"t":2015.559,"v":47},{"t":2015.579,"v":34},{"t":2015.600,"v":23},{"t":2015.621,"v":4},{"t":2015.642,"v":-26},{"t":2015.663,"v":-50},{"t":2015.684,"v":-47},{"t":2015.704,"v":-37},{"t":2015.725,"v":-31},{"t":2015.746,"v":-37},{"t":2015.767,"v":-28},{"t":2015.788,"v":-18},{"t":2015.808,"v":-4},{"t":2015.829,"v":-1},{"t":2015.850,"v":-12},{"t":2015.871,"v":-4},{"t":2015.892,"v":1},{"t":2015.913,"v":12},{"t":2015.933,"v":23},{"t":2015.954,"v":12},{"t":2015.975,"v":12},{"t":2015.996,"v":1},{"t":2016.017,"v":-12},{"t":2016.037,"v":-26},{"t":2016.058,"v":-31},{"t":2016.079,"v":-39},{"t":2016.100,"v":-39},{"t":2016.121,"v":-43},{"t":2016.141,"v":-46},{"t":2016.162,"v":-47},{"t":2016.183,"v":-45},{"t":2016.204,"v":-42},{"t":2016.225,"v":-39},{"t":2016.246,"v":-31},{"t":2016.266,"v":-20},{"t":2016.287,"v":-4},{"t":2016.308,"v":-18},{"t":2016.329,"v":-18},{"t":2016.350,"v":-22},{"t":2016.371,"v":-18},{"t":2016.391,"v":-15},{"t":2016.412,"v":-18},{"t":2016.433,"v":-9},{"t":2016.454,"v":-7},{"t":2016.475,"v":-39},{"t":2016.495,"v":-31},{"t":2016.516,"v":-7},{"t":2016.537,"v":7},{"t":2016.558,"v":11},{"t":2016.579,"v":10},{"t":2016.600,"v":16},{"t":2016.620,"v":20},{"t":2016.641,"v":26},{"t":2016.662,"v":31},{"t":2016.683,"v":24},{"t":2016.704,"v":15},{"t":2016.725,"v":13},{"t":2016.745,"v":8},{"t":2016.766,"v":11},{"t":2016.787,"v":15},{"t":2016.808,"v":11},{"t":2016.829,"v":12},{"t":2016.849,"v":13},{"t":2016.870,"v":16},{"t":2016.891,"v":18},{"t":2016.912,"v":22},{"t":2016.933,"v":19},{"t":2016.953,"v":49}
    ]
  },
  "concat": [
    {
      "width": 975, "height": 291,
      "data": {"values": [{}]},
      "mark": {"type": "rule", "color": "#000000", "strokeWidth": 5},
      "encoding": {"y": {"datum": 1, "type": "quantitative", "scale": {"domain": [0, 1]}, "axis": null}}
    },
    {
      "width": 925, "height": 291,
      "data": {"values": [{}]},
      "mark": {"type": "rule", "color": "#000000", "strokeWidth": 5},
      "encoding": {"y": {"datum": 1, "type": "quantitative", "scale": {"domain": [0, 1]}, "axis": null}}
    },
    {
      "width": 883, "height": 559,
      "data": {"name": "ex55"},
      "title": {"text": ["Exhibit 55: US Equity Fund Flows and Change in", "10-Year Treasury Yield"], "subtitle": "Bond returns can influence flows into equity funds.", "offset": 34},
      "layer": [
        {
          "layer": [
            {
              "mark": {"type": "rule", "color": "#91A8C2", "strokeWidth": 2.5},
              "encoding": {
                "x": {"datum": 1984, "type": "quantitative", "scale": {"domain": [1982.269, 2017], "nice": false, "zero": false},
                      "axis": {"values": [1984, 1989, 1994, 1999, 2004, 2009, 2014], "format": "d", "labelFont": "Liberation Sans Narrow, DejaVu Sans Condensed, Liberation Sans", "labelFontSize": 22,
                               "title": ["Data through December 31, 2016.", "Source: Investment Strategy Group, Bloomberg, ICI."], "titleX": 1, "titleY": 104, "titleLineHeight": 33,
                               "titleFont": "Liberation Sans Narrow, DejaVu Sans Condensed, Liberation Sans", "titleFontSize": 22}},
                "x2": {"datum": 2017},
                "y": {"datum": 0, "type": "quantitative", "scale": {"domain": [-5, 4], "nice": false, "zero": false},
                      "axis": {"offset": -44, "values": [-5, -4, -3, -2, -1, 0, 1, 2, 3, 4], "format": "d", "labelFont": "Liberation Sans Narrow, DejaVu Sans Condensed, Liberation Sans", "labelFontSize": 22, "labelPadding": 18, "tickSize": 7,
                               "title": "Percentage Points, YoY", "titleAlign": "left", "titleX": -44, "titleY": -27.5,
                               "titleFont": "Liberation Sans Narrow, DejaVu Sans Condensed, Liberation Sans", "titleFontSize": 22}}
              }
            },
            {
              "transform": [{"filter": "datum.s === 'y'"}],
              "mark": {"type": "line", "strokeWidth": 4.5, "strokeJoin": "round"},
              "encoding": {
                "x": {"field": "t", "type": "quantitative", "scale": {"domain": [1982.269, 2017], "nice": false, "zero": false},
                      "axis": {"values": [1984, 1989, 1994, 1999, 2004, 2009, 2014], "format": "d", "labelFont": "Liberation Sans Narrow, DejaVu Sans Condensed, Liberation Sans", "labelFontSize": 22,
                               "title": ["Data through December 31, 2016.", "Source: Investment Strategy Group, Bloomberg, ICI."], "titleX": 1, "titleY": 104, "titleLineHeight": 33,
                               "titleFont": "Liberation Sans Narrow, DejaVu Sans Condensed, Liberation Sans", "titleFontSize": 22}},
                "y": {"field": "v", "type": "quantitative", "scale": {"domain": [-5, 4], "nice": false, "zero": false},
                      "axis": {"offset": -44, "values": [-5, -4, -3, -2, -1, 0, 1, 2, 3, 4], "format": "d", "labelFont": "Liberation Sans Narrow, DejaVu Sans Condensed, Liberation Sans", "labelFontSize": 22, "labelPadding": 18, "tickSize": 7,
                               "title": "Percentage Points, YoY", "titleAlign": "left", "titleX": -44, "titleY": -27.5,
                               "titleFont": "Liberation Sans Narrow, DejaVu Sans Condensed, Liberation Sans", "titleFontSize": 22}},
                "color": {"field": "s", "type": "nominal", "scale": {"domain": ["y", "f"], "range": ["#0D3B66", "#E3323B"]},
                          "legend": {"title": null, "orient": "none", "legendX": 194, "legendY": -16, "symbolType": "M-6,0H1", "symbolSize": 1024, "symbolStrokeWidth": 4.5, "labelOffset": 12, "rowPadding": 4, "padding": 0,
                                     "labelExpr": "datum.value === 'y' ? 'Change in 10-Year Yield' : 'Equity Minus Bond Flows (Right)'"}},
                "strokeDash": {"field": "s", "type": "nominal", "scale": {"domain": ["y", "f"], "range": [[1, 0], [14, 8]]},
                          "legend": {"title": null, "orient": "none", "legendX": 194, "legendY": -16, "symbolType": "M-6,0H1", "symbolSize": 1024, "symbolStrokeWidth": 4.5, "labelOffset": 12, "rowPadding": 4, "padding": 0,
                                     "labelExpr": "datum.value === 'y' ? 'Change in 10-Year Yield' : 'Equity Minus Bond Flows (Right)'"}}
              }
            }
          ]
        },
        {
          "transform": [{"filter": "datum.s === 'f'"}],
          "mark": {"type": "line", "strokeWidth": 4.5, "strokeJoin": "round"},
          "encoding": {
            "x": {"field": "t", "type": "quantitative", "scale": {"domain": [1982.269, 2017], "nice": false, "zero": false},
                  "axis": {"values": [1984, 1989, 1994, 1999, 2004, 2009, 2014], "format": "d", "labelFont": "Liberation Sans Narrow, DejaVu Sans Condensed, Liberation Sans", "labelFontSize": 22,
                           "title": ["Data through December 31, 2016.", "Source: Investment Strategy Group, Bloomberg, ICI."], "titleX": 1, "titleY": 104, "titleLineHeight": 33,
                           "titleFont": "Liberation Sans Narrow, DejaVu Sans Condensed, Liberation Sans", "titleFontSize": 22}},
            "y": {"field": "v", "type": "quantitative", "scale": {"domain": [-8, 8], "nice": false, "zero": false},
                  "axis": {"orient": "right", "values": [-8, -6, -4, -2, 0, 2, 4, 6, 8], "format": "d", "labelFont": "Liberation Sans Narrow, DejaVu Sans Condensed, Liberation Sans", "labelFontSize": 22, "labelPadding": 14, "tickSize": 7,
                           "title": "% of Assets, 3-Month Moving Average", "titleAlign": "right", "titleX": 42, "titleY": -27.5,
                           "titleFont": "Liberation Sans Narrow, DejaVu Sans Condensed, Liberation Sans", "titleFontSize": 22}},
            "color": {"field": "s", "type": "nominal",
                      "legend": {"title": null, "orient": "none", "legendX": 194, "legendY": -16, "symbolType": "M-6,0H1", "symbolSize": 1024, "symbolStrokeWidth": 4.5, "labelOffset": 12, "rowPadding": 4, "padding": 0,
                                 "labelExpr": "datum.value === 'y' ? 'Change in 10-Year Yield' : 'Equity Minus Bond Flows (Right)'"}},
            "strokeDash": {"field": "s", "type": "nominal",
                      "legend": {"title": null, "orient": "none", "legendX": 194, "legendY": -16, "symbolType": "M-6,0H1", "symbolSize": 1024, "symbolStrokeWidth": 4.5, "labelOffset": 12, "rowPadding": 4, "padding": 0,
                                 "labelExpr": "datum.value === 'y' ? 'Change in 10-Year Yield' : 'Equity Minus Bond Flows (Right)'"}}
          }
        }
      ],
      "resolve": {"scale": {"y": "independent"}}
    },
    {
      "width": 923, "height": 559,
      "data": {"name": "ex56"},
      "title": {"text": "Exhibit 56: The AAII Bullish Investor Sentiment", "subtitle": "Lack of investor euphoria is a contrarian positive for stocks.", "offset": 87},
      "mark": {"type": "line", "color": "#0D3B66", "strokeWidth": 4.5, "strokeJoin": "round"},
      "encoding": {
        "x": {"field": "t", "type": "quantitative", "scale": {"domain": [1986.293, 2016.6], "nice": false, "zero": false},
              "axis": {"values": [1988, 1993, 1998, 2003, 2008, 2013], "format": "d",
                       "title": ["Data through December 31, 2016.", "Source: Investment Strategy Group, Bloomberg, American Association of Individual Investors."], "titleX": 1, "titleY": 103.5}},
        "y": {"field": "v", "type": "quantitative", "scale": {"domain": [20, 60], "nice": false, "zero": false},
              "axis": {"offset": -52, "values": [20, 25, 30, 35, 40, 45, 50, 55, 60], "format": "d", "labelPadding": 20,
                       "title": "% Bullish, 52-Week Average", "titleAlign": "left", "titleX": -52, "titleY": -28.5}}
      }
    },
    {
      "width": 926, "height": 175,
      "data": {"values": [{}]},
      "mark": {"type": "rule", "color": "#9B9B9B", "strokeWidth": 1.5},
      "encoding": {"y": {"datum": 0, "type": "quantitative", "scale": {"domain": [0, 1]}, "axis": null}}
    },
    {
      "width": 925, "height": 175,
      "data": {"values": [{}]},
      "title": {"text": [
        "seen in 2013–14, providing scope for upside (see",
        "Exhibit 57). If bull markets “die on euphoria” as",
        "Sir John Templeton observed, then these measures",
        "argue we have not yet reached the apex.",
        "\u200b\u00a0\u00a0\u00a0\u00a0\u00a0\u00a0A rare technical analysis signal corroborates",
        "that view. As shown in Exhibit 58, the Coppock",
        "curve—an intermediate-length momentum signal—",
        "has generated only 17 buy signals over the past 71",
        "years, but collectively they have provided attractive",
        "low-risk entry points for long-term investors. If",
        "we took the median path of S&P 500 prices after",
        "past signals, it would imply the market gains 9%",
        "this year with 88% odds of a positive outcome. Of",
        "particular note, Coppock buy signals on the NYSE,",
        "Russell 2000 and FTSE All-World Index were also",
        "triggered in November, even before the post-election",
        "rally. For all the reasons discussed above, we accord",
        "a 25% probability to our good-case scenario of the",
        "S&P 500 reaching 2,450 by year-end.",
        "\u200b\u00a0\u00a0\u00a0\u00a0\u00a0\u00a0Of course, we are equally aware of the myriad",
        "downside risks investors face, including growing",
        "unease about a disorderly backup in bond yields.",
        "But here, our work suggests that rates have scope",
        "to increase further before becoming a headwind for",
        "stocks, even if adjusted for today’s lower long-run",
        "equilibrium nominal rate (see Exhibit 59). Keep",
        "in mind that 88% of S&P 500 debt has a fixed",
        "interest rate and only about 10% matures each",
        "year. The impact of higher rates will be spread over",
        "many years as a consequence."
      ], "orient": "bottom", "anchor": "start", "offset": 134, "font": "Liberation Serif", "fontSize": 43, "fontWeight": "normal", "color": "#1a1a1a", "lineHeight": 52.1},
      "mark": {"type": "rule", "color": "#9B9B9B", "strokeWidth": 1.5},
      "encoding": {"y": {"datum": 0, "type": "quantitative", "scale": {"domain": [0, 1]}, "axis": null}}
    },
    {
      "width": 926, "height": 121,
      "data": {"values": [{}]},
      "mark": {"type": "rule", "color": "#000000", "strokeWidth": 5},
      "encoding": {"y": {"datum": 0, "type": "quantitative", "scale": {"domain": [0, 1]}, "axis": null}}
    },
    {"width": 1, "height": 1, "data": {"values": []}, "mark": "point"},
    {"width": 926, "height": 290, "data": {"values": []}, "mark": "point"},
    {"width": 1, "height": 1, "data": {"values": []}, "mark": "point"},
    {
      "width": 924, "height": 559,
      "data": {"name": "ex57"},
      "title": {"text": ["Exhibit 57: Non-Dealer US Equity Index Futures", "Positioning"], "subtitle": "There is scope for increased US equity positions.", "offset": 36},
      "layer": [
        {
          "mark": {"type": "rule", "color": "#91A8C2", "strokeWidth": 2},
          "encoding": {
            "x": {"datum": 2011, "type": "quantitative", "scale": {"domain": [2010.6016, 2016.96], "nice": false, "zero": false},
                  "axis": {"values": [2011, 2012, 2013, 2014, 2015, 2016], "format": "d",
                           "title": ["Data through December 31, 2016.", "Source: Investment Strategy Group, CFTC, Goldman Sachs Securities Division Equity", "Strats Group."], "titleX": 1, "titleY": 103}},
            "x2": {"datum": 2016.96},
            "y": {"datum": 0, "type": "quantitative", "scale": {"domain": [-80, 140], "nice": false, "zero": false},
                  "axis": {"offset": -58, "values": [-80, -60, -40, -20, 0, 20, 40, 60, 80, 100, 120, 140], "format": "d", "labelPadding": 16, "tickSize": 9,
                           "title": "$ bn", "titleAlign": "left", "titleX": -56, "titleY": -27}}
          }
        },
        {
          "mark": {"type": "line", "color": "#0D3B66", "strokeWidth": 4.5, "strokeJoin": "round"},
          "encoding": {
            "x": {"field": "t", "type": "quantitative", "scale": {"domain": [2010.6016, 2016.96], "nice": false, "zero": false},
                  "axis": {"values": [2011, 2012, 2013, 2014, 2015, 2016], "format": "d",
                           "title": ["Data through December 31, 2016.", "Source: Investment Strategy Group, CFTC, Goldman Sachs Securities Division Equity", "Strats Group."], "titleX": 1, "titleY": 103}},
            "y": {"field": "v", "type": "quantitative", "scale": {"domain": [-80, 140], "nice": false, "zero": false},
                  "axis": {"offset": -58, "values": [-80, -60, -40, -20, 0, 20, 40, 60, 80, 100, 120, 140], "format": "d", "labelPadding": 16, "tickSize": 9,
                           "title": "$ bn", "titleAlign": "left", "titleX": -56, "titleY": -27}}
          }
        }
      ]
    },
    {"width": 1, "height": 1, "data": {"values": []}, "mark": "point"},
    {
      "width": 926, "height": 209,
      "data": {"values": [{}]},
      "title": {"text": [
        "incipient uptick in bond outflows seen in late 2016",
        "may persist, especially with “risk-free” Treasuries",
        "delivering a notable loss in the fourth quarter.",
        "\u200b\u00a0\u00a0\u00a0\u00a0\u00a0\u00a0Today’s visible lack of market euphoria",
        "represents another potential positive for stocks.",
        "Exhibit 56 shows the proportion of investors",
        "classifying themselves as “bullish” near its lowest",
        "level in decades. Meanwhile, non-dealer positions",
        "in US index futures stand well below the levels"
      ], "orient": "bottom", "anchor": "start", "offset": 100, "font": "Liberation Serif", "fontSize": 43, "fontWeight": "normal", "color": "#1a1a1a", "lineHeight": 52.1},
      "mark": {"type": "rule", "color": "#9B9B9B", "strokeWidth": 1.5},
      "encoding": {"y": {"datum": 0, "type": "quantitative", "scale": {"domain": [0, 1]}, "axis": null}}
    },
    {"width": 1, "height": 1, "data": {"values": []}, "mark": "point"},
    {
      "width": 975, "height": 641,
      "data": {"values": [{}]},
      "mark": {"type": "rule", "color": "#000000", "strokeWidth": 5},
      "encoding": {
        "x": {"datum": 0, "type": "quantitative", "scale": {"domain": [0, 1]},
              "axis": {"labels": false, "ticks": false, "domain": false, "grid": false, "title": "54\u00a0\u00a0\u2009|\u00a0\u2009Goldman Sachs\u00a0\u00a0|", "titleX": 0, "titleY": 52, "titleAlign": "left", "titleBaseline": "alphabetic", "titleFont": "Liberation Serif", "titleFontSize": 40, "titleColor": "#1a1a1a"}},
        "x2": {"datum": 1},
        "y": {"datum": 0, "type": "quantitative", "scale": {"domain": [0, 1]},
              "axis": {"labels": false, "ticks": false, "domain": false, "grid": false, "title": "J\u200aA\u200aN\u200aU\u200aA\u200aR\u200aY\u2002\u200a2\u200a0\u200a1\u200a7", "titleX": 394, "titleY": 693, "titleAngle": 0, "titleAlign": "left", "titleBaseline": "alphabetic", "titleFont": "Liberation Serif", "titleFontSize": 30, "titleColor": "#1a1a1a"}}
      }
    },
    {
      "width": 925, "height": 641,
      "data": {"values": [{}]},
      "mark": {"type": "rule", "color": "#000000", "strokeWidth": 5},
      "encoding": {"y": {"datum": 0, "type": "quantitative", "scale": {"domain": [0, 1]}, "axis": null}}
    }
  ]
}
